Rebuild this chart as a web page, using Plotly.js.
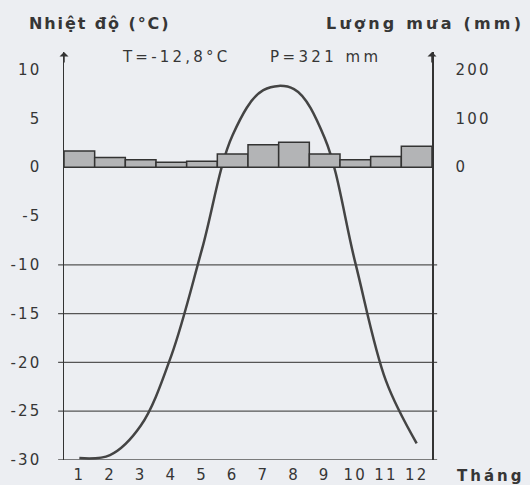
<!DOCTYPE html>
<html><head><meta charset="utf-8">
<script src="https://cdn.plot.ly/plotly-3.0.1.min.js"></script>
<style>
html,body{margin:0;padding:0;background:#eceef2;}
#chart g.xtick text, #chart g.ytick text, #chart g.y2tick text{letter-spacing:2.2px;}
</style>
</head><body><div id="chart" style="width:530px;height:485px;"></div>
<script>
const months = [1,2,3,4,5,6,7,8,9,10,11,12];
const monthLabels = ["1","2","3","4","5","6","7","8","9","10","11","12"];
const temperature = [-29.8,-29.5,-26.5,-19.3,-8.4,3.3,7.9,8.0,3.0,-9.8,-21.9,-28.3];
const precipitation = [33,20,15,10,12,27,46,51,27,15,22,43];
const tempTicks = [10,5,0,-5,-10,-15,-20,-25,-30];
const rainTicks = [0,100,200];
const gridLevels = [-10,-15,-20,-25,-30];

const ink = '#363636';
const fam = 'DejaVu Sans, Verdana, sans-serif';
const font = {family:fam, size:15, color:ink};
const yMin = -30, yMax = 11.8, ratio = 20;

const traces = [
  {type:'bar', x:months, y:precipitation, yaxis:'y2', width:1,
   marker:{color:'#b3b4b6', line:{color:'#333', width:1.5}}, hoverinfo:'skip'},
  {type:'scatter', mode:'lines', x:months, y:temperature,
   line:{color:'#444', width:2.5, shape:'spline', smoothing:1}, hoverinfo:'skip'}
];

const shapes = gridLevels.map(v => ({type:'line', xref:'paper', yref:'y', x0:-0.016, x1:1.014, y0:v, y1:v,
  line:{color:'#555', width:1.3}, layer:'below'}));

function spaced(t, px){ return '<span style="letter-spacing:' + px + 'px">' + t + '</span>'; }

const layout = {
  width:530, height:485,
  margin:{l:64, r:98, t:52, b:25},
  paper_bgcolor:'#eceef2', plot_bgcolor:'#eceef2',
  showlegend:false, font:font,
  xaxis:{range:[0.5,12.5], tickvals:months, ticktext:monthLabels, ticks:'', showgrid:false,
         zeroline:false, showline:false, tickfont:font, ticklabelstandoff:4, fixedrange:true},
  yaxis:{range:[yMin,yMax], tickvals:tempTicks, ticktext:tempTicks.map(String), ticks:'',
         showgrid:false, zeroline:false, showline:true, linecolor:'#333', linewidth:1.5,
         tickfont:font, ticklabelstandoff:18},
  yaxis2:{range:[yMin*ratio,yMax*ratio], overlaying:'y', side:'right', tickvals:rainTicks,
          ticktext:rainTicks.map(String), ticks:'', showgrid:false, zeroline:false,
          showline:true, linecolor:'#333', linewidth:1.5, tickfont:font, ticklabelstandoff:19},
  shapes:shapes,
  annotations:[
    {xref:'paper', yref:'paper', x:-0.101, y:1.071, yanchor:'middle', xanchor:'left', showarrow:false,
     text:'<b>' + spaced('Nhiệt độ (°C)', 1.9) + '</b>', font:{family:fam, size:16, color:ink}},
    {xref:'paper', yref:'paper', x:1.255, y:1.071, yanchor:'middle', xanchor:'right', showarrow:false,
     text:'<b>' + spaced('Lượng mưa (mm)', 3.2) + '</b>', font:{family:fam, size:16, color:ink}},
    {xref:'paper', yref:'paper', x:0.152, y:0.988, xanchor:'left', yanchor:'middle', showarrow:false,
     text:spaced('T=-12,8°C', 3.2), font:font},
    {xref:'paper', yref:'paper', x:0.553, y:0.988, xanchor:'left', yanchor:'middle', showarrow:false,
     text:spaced('P=321 mm', 3.4), font:font},
    {xref:'paper', yref:'paper', x:1.063, y:-0.038, xanchor:'left', yanchor:'middle', showarrow:false,
     text:'<b>' + spaced('Tháng', 3) + '</b>', font:font},
    {xref:'paper', yref:'paper', x:0, y:1.0, ax:0, ay:12, showarrow:true, arrowhead:1, arrowsize:1,
     arrowwidth:1.5, arrowcolor:'#333', text:''},
    {xref:'paper', yref:'paper', x:1, y:1.0, ax:0, ay:12, showarrow:true, arrowhead:1, arrowsize:1,
     arrowwidth:1.5, arrowcolor:'#333', text:''}
  ]
};
Plotly.newPlot('chart', traces, layout, {staticPlot:true, displayModeBar:false});
</script></body></html>
